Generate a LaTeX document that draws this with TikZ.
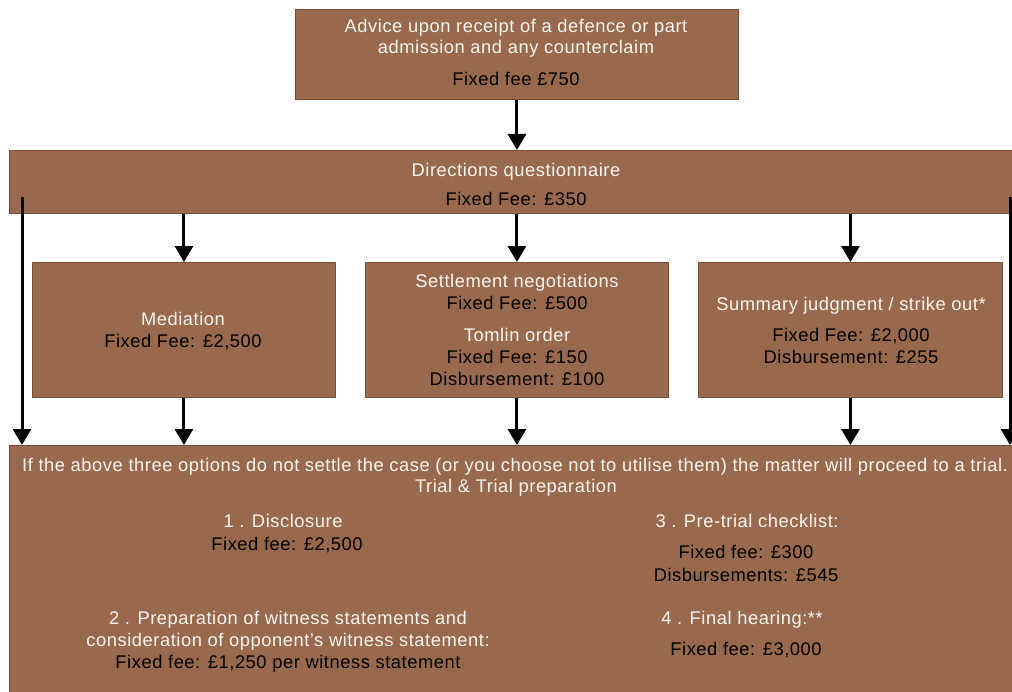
\documentclass[tikz,border=0pt]{standalone}
\usepackage{fontspec}
\setmainfont{Liberation Sans}[LetterSpace=3]
\usetikzlibrary{arrows.meta}
\definecolor{boxfill}{RGB}{152,105,77}
\definecolor{boxline}{RGB}{118,78,56}
\definecolor{wtext}{RGB}{250,246,242}
\begin{document}
\begin{tikzpicture}[x=1bp,y=-1bp,
  box/.style={draw=boxline,fill=boxfill,line width=0.9bp,inner sep=0pt,anchor=north west},
  txt/.style={font=\fontsize{18.4}{20}\selectfont,inner sep=0pt,anchor=base},
  wt/.style={txt,text=wtext},
  bt/.style={txt,text=black},
  arr/.style={line width=3bp,draw=black,-{Triangle[width=18bp,length=16bp]}}]
\clip (0,0) rectangle (1012,692);
\fill[white] (0,0) rectangle (1012,692);
% boxes
\node[box,minimum width=443bp,minimum height=90bp] (top) at (295,9) {};
\node[box,minimum width=1010bp,minimum height=63bp] (dq) at (9,150) {};
\node[box,minimum width=303bp,minimum height=135bp] (med) at (32,262) {};
\node[box,minimum width=303bp,minimum height=135bp] (set) at (365,262) {};
\node[box,minimum width=304bp,minimum height=135bp] (sum) at (698,262) {};
\node[box,minimum width=1010bp,minimum height=260bp] (bot) at (9,445) {};
% texts
\node[wt] (t1) at (516,33) {Advice upon receipt of a defence or part};
\node[wt] (t2) at (516,54) {admission and any counterclaim};
\node[bt] (t3) at (516,86) {Fixed fee £750};
\node[wt] (d1) at (516,177) {Directions questionnaire};
\node[bt] (d2) at (516,205) {Fixed Fee: £350};
\node[wt] (m1) at (183,325) {Mediation};
\node[bt] (m2) at (183,347) {Fixed Fee: £2,500};
\node[wt] (s1) at (517,287) {Settlement negotiations};
\node[bt] (s2) at (517,309) {Fixed Fee: £500};
\node[wt] (s3) at (517,341) {Tomlin order};
\node[bt] (s4) at (517,363) {Fixed Fee: £150};
\node[bt] (s5) at (517,385) {Disbursement: £100};
\node[wt] (u1) at (851,310) {Summary judgment / strike out*};
\node[bt] (u2) at (851,341) {Fixed Fee: £2,000};
\node[bt] (u3) at (851,363) {Disbursement: £255};
\node[wt] (b1) at (515,471) {If the above three options do not settle the case (or you choose not to utilise them) the matter will proceed to a trial.};
\node[wt] (b2) at (516,492) {Trial \& Trial preparation};
\node[wt] (b3) at (283,527) {1 . Disclosure};
\node[bt] (b4) at (287,550) {Fixed fee: £2,500};
\node[wt] (b5) at (747,527) {3 . Pre-trial checklist:};
\node[bt] (b6) at (746,558) {Fixed fee: £300};
\node[bt] (b7) at (746,581) {Disbursements: £545};
\node[wt] (b8) at (288,624) {2 . Preparation of witness statements and};
\node[wt] (b9) at (288,646) {consideration of opponent’s witness statement:};
\node[bt] (b10) at (288,668) {Fixed fee: £1,250 per witness statement};
\node[wt] (b11) at (742,624) {4 . Final hearing:**};
\node[bt] (b12) at (746,655) {Fixed fee: £3,000};
% connectors
\draw[arr] (top.south) -- (top.south |- dq.north);
\draw[arr] (med.north |- dq.south) -- (med.north);
\draw[arr] (set.north |- dq.south) -- (set.north);
\draw[arr] (sum.north |- dq.south) -- (sum.north);
\draw[arr] (med.south) -- (med.south |- bot.north);
\draw[arr] (set.south) -- (set.south |- bot.north);
\draw[arr] (sum.south) -- (sum.south |- bot.north);
\coordinate (ls) at (22,197);
\coordinate (rs) at (1010,197);
\draw[arr] (ls) -- (ls |- bot.north);
\draw[arr] (rs) -- (rs |- bot.north);
\end{tikzpicture}
\end{document}
